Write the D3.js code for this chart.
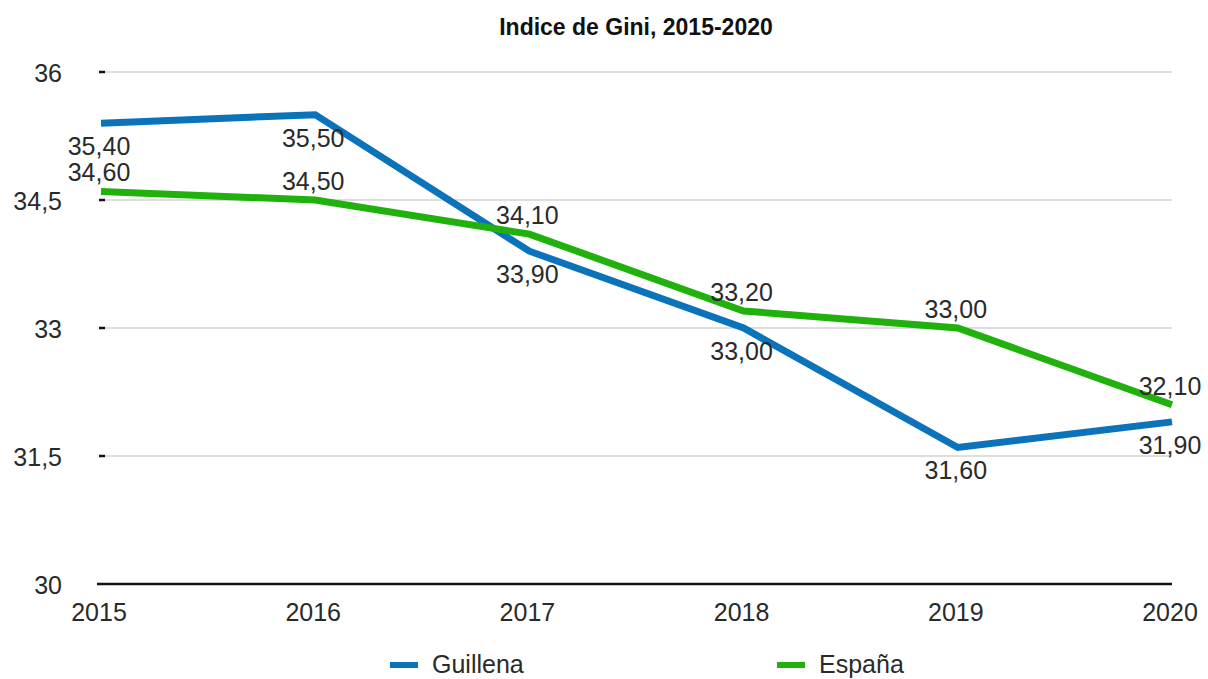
<!DOCTYPE html>
<html><head><meta charset="utf-8">
<script src="https://cdn.jsdelivr.net/npm/d3@7"></script>
<style>
body{margin:0;background:#fff;}
text{font-family:"Liberation Sans",Arial,sans-serif;}
</style></head>
<body><svg id="c" width="1208" height="679"></svg>
<script>
const years = [2015, 2016, 2017, 2018, 2019, 2020];
const guillena = [35.4, 35.5, 33.9, 33.0, 31.6, 31.9];
const espana = [34.6, 34.5, 34.1, 33.2, 33.0, 32.1];
const yTicks = [30, 31.5, 33, 34.5, 36];
const seriesNames = ["Guillena", "España"];
const colors = ["#0b73b9", "#21b10c"];
const title = "Indice de Gini, 2015-2020";

const svg = d3.select("#c");
const x = d3.scalePoint().domain(years).range([101, 1172]);
const y = d3.scaleLinear().domain([30, 36]).range([584, 72]);
const fmt = v => d3.format(".2f")(v).replace(".", ",");
const fmtTick = v => String(v).replace(".", ",");
const FS = "25px";
const TC = "#2a2a2a";

// title
svg.append("text").attr("x", 636).attr("y", 35).attr("text-anchor", "middle")
  .style("font-family", "'Liberation Sans Narrow','Liberation Sans',sans-serif")
  .style("font-weight", "bold").style("font-size", "23px").attr("fill", "#111").text(title);

// gridlines
svg.append("g").selectAll("line").data(yTicks.filter(d => d !== 30)).join("line")
  .attr("x1", 101).attr("x2", 1172).attr("y1", d => y(d)).attr("y2", d => y(d))
  .attr("stroke", "#bdbdbd").attr("stroke-width", 1);
// tick dashes
svg.append("g").selectAll("line").data(yTicks.filter(d => d !== 30)).join("line")
  .attr("x1", 99).attr("x2", 105).attr("y1", d => y(d)).attr("y2", d => y(d))
  .attr("stroke", "#111").attr("stroke-width", 2.5);
// baseline
svg.append("line").attr("x1", 97).attr("x2", 1172).attr("y1", y(30)).attr("y2", y(30))
  .attr("stroke", "#111").attr("stroke-width", 2.5);

// y labels
svg.append("g").selectAll("text").data(yTicks).join("text")
  .attr("x", 62).attr("y", d => y(d) + 10).attr("text-anchor", "end")
  .style("font-size", FS).attr("fill", TC).text(fmtTick);
// x labels
svg.append("g").selectAll("text").data(years).join("text")
  .attr("x", d => x(d) - 2).attr("y", 621).attr("text-anchor", "middle")
  .style("font-size", FS).attr("fill", TC).text(d => d);

const series = [guillena, espana];
const line = d3.line().x((d, i) => x(years[i])).y(d => y(d));
series.forEach((s, k) => {
  svg.append("path").datum(s).attr("d", line).attr("fill", "none")
    .attr("stroke", colors[k]).attr("stroke-width", 7).attr("stroke-linejoin", "miter");
});
// labels
series.forEach((s, k) => {
  svg.append("g").selectAll("text").data(s).join("text")
    .attr("x", (d, i) => x(years[i]) - 2)
    .attr("y", d => k === 0 ? y(d) + 32 : y(d) - 10)
    .attr("text-anchor", "middle").style("font-size", FS).attr("fill", TC)
    .text(fmt);
});

// legend
const legX = [390, 777];
seriesNames.forEach((n, k) => {
  svg.append("line").attr("x1", legX[k]).attr("x2", legX[k] + 28)
    .attr("y1", 665).attr("y2", 665).attr("stroke", colors[k]).attr("stroke-width", 6);
  svg.append("text").attr("x", legX[k] + 42).attr("y", 673)
    .style("font-size", FS).attr("fill", TC).text(n);
});
</script></body></html>
